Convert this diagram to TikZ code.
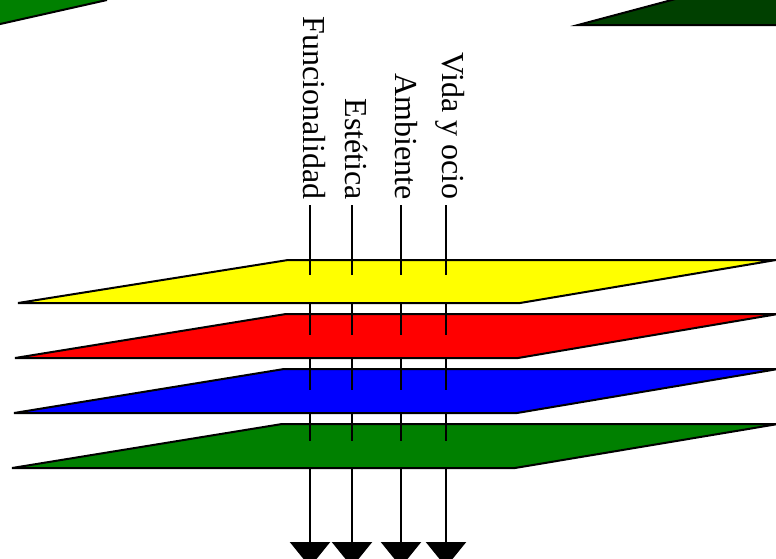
\documentclass[tikz,border=0pt]{standalone}
\usepackage{fontspec}
\setmainfont{Liberation Serif}
\usetikzlibrary{arrows.meta}
\definecolor{pyellow}{RGB}{255,255,0}
\definecolor{pred}{RGB}{255,0,0}
\definecolor{pblue}{RGB}{0,0,255}
\definecolor{pgreen}{RGB}{0,128,0}
\definecolor{pdark}{RGB}{0,64,0}
\begin{document}
\begin{tikzpicture}[x=1pt,y=-1pt,
  plane/.style={draw=black,line width=2pt,line join=miter},
  axisline/.style={line width=2.4pt,black},
  axisarrow/.style={axisline,-{Triangle[width=40pt,length=25pt]}},
  lab/.style={rotate=-90,anchor=base east,inner sep=0pt,font=\fontsize{32}{36}\selectfont}]
\path[use as bounding box] (0,0) rectangle (776,558);
\clip (0,0) rectangle (776,558);
\fill[white] (0,0) rectangle (776,558);

% partial planes at the top
\fill[pgreen] (-2,-2) -- (107,-2) -- (107,0) -- (0,24) -- (-2,24.5) -- cycle;
\draw[plane] (107,0) -- (-2,24.5);
\filldraw[plane,fill=pdark] (683,-3) -- (578,25) -- (780,25) -- (780,-3);

% labels
\node[lab] (lf) at (303,200) {Funcionalidad};
\node[lab] (le) at (345,200) {Estética};
\node[lab] (la) at (395,200) {Ambiente};
\node[lab] (lv) at (442,200) {Vida y ocio};

% axis ends
\coordinate (tf) at (310,205); \coordinate (bf) at (311,567);
\coordinate (te) at (352,205); \coordinate (be) at (353,567);
\coordinate (ta) at (401,205); \coordinate (ba) at (401,567);
\coordinate (tv) at (446,205); \coordinate (bv) at (446,567);

\foreach \t/\b in {tf/bf,te/be,ta/ba,tv/bv}
  \draw[axisarrow] (\t) -- (\t |- \b);

% planes
\filldraw[plane,fill=pyellow] (18,303) -- (288,260) -- (776,260) -- (520,303) -- cycle;
\filldraw[plane,fill=pred]    (15,358) -- (286,314) -- (778,314) -- (518,358) -- cycle;
\filldraw[plane,fill=pblue]   (14,413) -- (284,369) -- (778,369) -- (517,413) -- cycle;
\filldraw[plane,fill=pgreen]  (12,468) -- (282,424) -- (778,424) -- (515,468) -- cycle;

% axis parts in front of the planes
\foreach \t in {tf,te,ta,tv}
  \foreach \a/\b in {260/275,314/335,369/390,424/441}
    \draw[axisline] (\t |- 0,\a) -- (\t |- 0,\b);
\end{tikzpicture}
\end{document}
